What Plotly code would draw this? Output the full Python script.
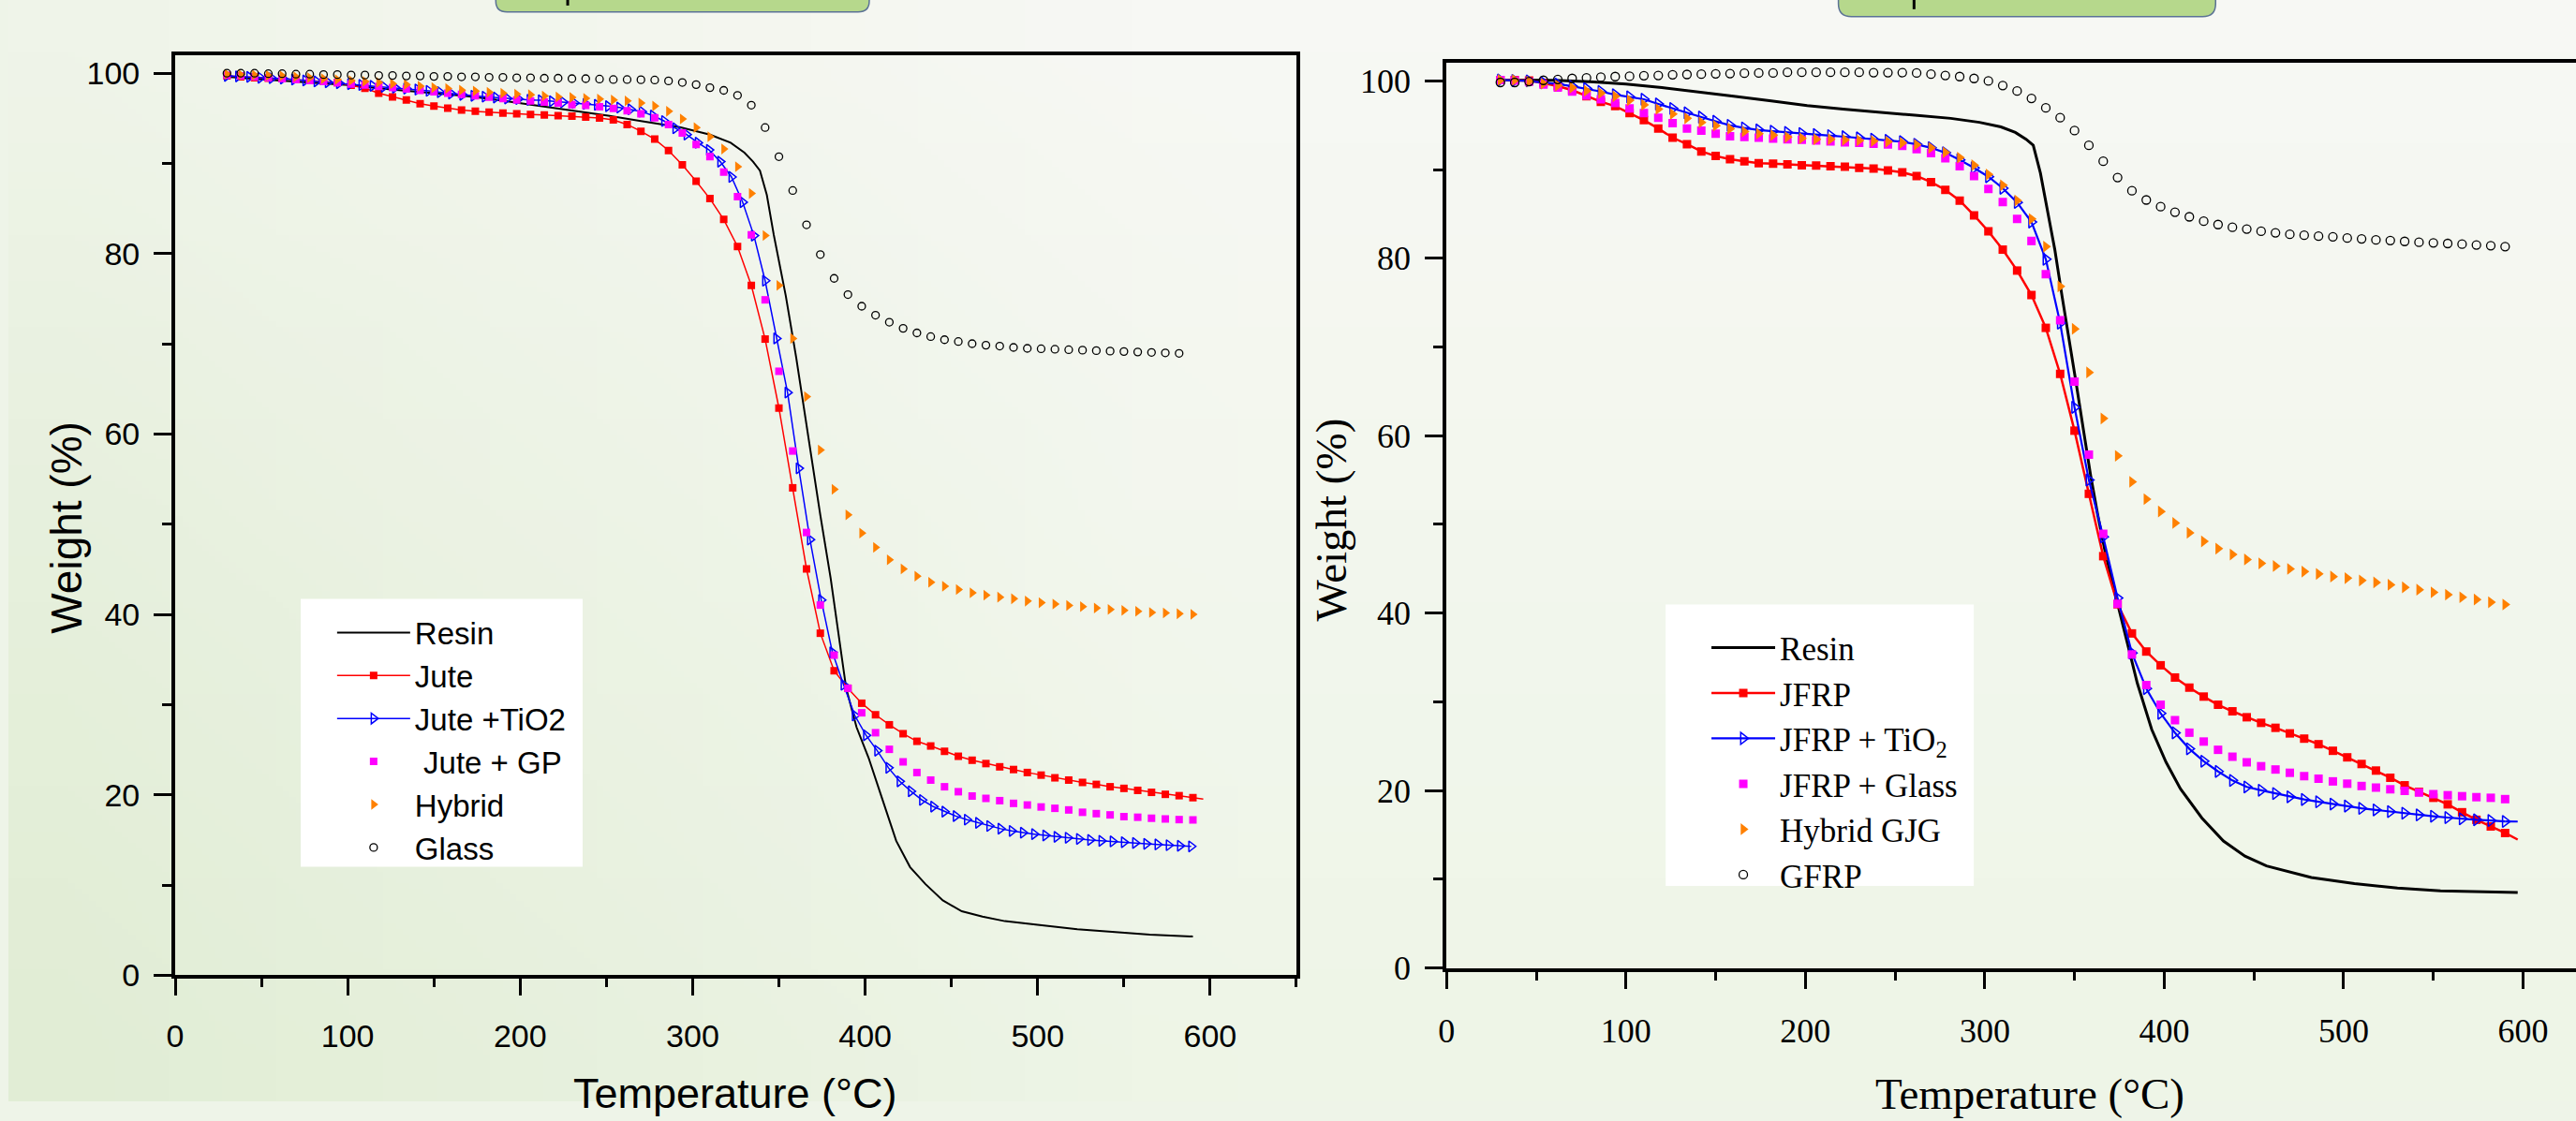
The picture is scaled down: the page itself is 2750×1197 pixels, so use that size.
import base64
import struct
import zlib

import plotly.graph_objects as go

# ---------------- DATA ----------------
# common temperature grid (°C) of the marker series
temp_grid = [30, 38, 46, 54, 62, 70, 78, 86, 94, 102, 110, 118, 126, 134, 142, 150, 158, 166, 174, 182,
             190, 198, 206, 214, 222, 230, 238, 246, 254, 262, 270, 278, 286, 294, 302, 310, 318, 326, 334, 342,
             350, 358, 366, 374, 382, 390, 398, 406, 414, 422, 430, 438, 446, 454, 462, 470, 478, 486, 494, 502,
             510, 518, 526, 534, 542, 550, 558, 566, 574, 582, 590]

# ---- left panel ----
left_resin_t = [30, 50, 75, 100, 125, 150, 167, 185, 200, 225, 251, 270, 293, 310, 322, 330, 335, 339, 343, 347,
                354, 360, 368, 374, 380, 385, 389, 395, 402, 410, 418, 426, 435, 445, 456, 468, 481, 500, 523, 545,
                565, 590]
left_resin_w = [99.6, 99.3, 99.0, 98.7, 98.2, 97.8, 97.5, 97.1, 96.7, 96.0, 95.3, 94.7, 94.0, 93.2, 92.3, 91.2,
                90.2, 89.2, 86.5, 82.1, 75.3, 68.5, 58.3, 51.0, 44.0, 37.5, 31.8, 27.5, 24.1, 19.5, 14.9, 12.0,
                10.1, 8.3, 7.1, 6.5, 6.0, 5.6, 5.1, 4.8, 4.5, 4.3]

left_jute_w = [99.7, 99.6, 99.5, 99.45, 99.4, 99.3, 99.2, 99.1, 98.95, 98.67,
               98.33, 97.79, 97.38, 97.04, 96.63, 96.36, 96.12, 95.92, 95.78, 95.68,
               95.58, 95.51, 95.44, 95.38, 95.31, 95.24, 95.14, 95.04, 94.83, 94.32,
               93.57, 92.69, 91.43, 89.84, 88.03, 86.10, 83.79, 80.79, 76.48, 70.53,
               62.88, 54.04, 45.05, 37.92, 33.76, 31.82, 30.16, 28.88, 27.77, 26.78,
               25.94, 25.42, 24.83, 24.28, 23.84, 23.47, 23.11, 22.81, 22.48, 22.19,
               21.89, 21.64, 21.38, 21.16, 20.90, 20.72, 20.50, 20.28, 20.06, 19.91,
               19.69]
left_jute_tail_t = [590, 596]
left_jute_tail_w = [19.69, 19.54]

left_tio2_t = [30, 36.5, 43, 49.5, 56, 62.5, 69, 75.5, 82, 88.5, 95, 101.5, 108, 114.5, 121, 127.5, 134, 140.5,
               147, 153.5, 160, 166.5, 173, 179.5, 186, 192.5, 199, 205.5, 212, 218.5, 225, 231.5, 238, 244.5,
               251, 257.5, 264, 270.5, 277, 283.5, 290, 296.5, 303, 309.5, 316, 322.5, 329, 335.5, 342, 348.5,
               355, 361.5, 368, 374.5, 381, 387.5, 394, 400.5, 407, 413.5, 420, 426.5, 433, 439.5, 446, 452.5,
               459, 465.5, 472, 478.5, 485, 491.5, 498, 504.5, 511, 517.5, 524, 530.5, 537, 543.5, 550, 556.5,
               563, 569.5, 576, 582.5, 589]
left_tio2_w = [99.7, 99.65, 99.6, 99.5, 99.45, 99.4, 99.3, 99.2, 99.1, 99.0,
               98.9, 98.8, 98.7, 98.6, 98.5, 98.4, 98.3, 98.2, 98.05, 97.9,
               97.75, 97.6, 97.5, 97.4, 97.3, 97.2, 97.15, 97.05, 97.0, 96.9,
               96.8, 96.7, 96.6, 96.5, 96.35, 96.2, 96.0, 95.75, 95.3, 94.7,
               93.9, 93.2, 92.3, 91.5, 90.2, 88.5, 85.7, 82.0, 77.0, 70.6,
               64.6, 56.2, 48.3, 41.6, 35.8, 32.2, 28.8, 26.6, 24.9, 23.0,
               21.5, 20.4, 19.43, 18.7, 18.14, 17.65, 17.25, 16.9, 16.55, 16.25,
               16.0, 15.8, 15.65, 15.5, 15.35, 15.25, 15.12, 15.0, 14.9, 14.84,
               14.75, 14.66, 14.57, 14.5, 14.42, 14.35, 14.29]

left_gp_w = [99.8, 99.7, 99.6, 99.5, 99.4, 99.3, 99.2, 99.1, 98.95, 98.8,
             98.7, 98.55, 98.4, 98.25, 98.1, 97.95, 97.8, 97.65, 97.5, 97.35,
             97.2, 97.05, 96.94, 96.8, 96.7, 96.53, 96.43, 96.29, 96.09, 95.85,
             95.51, 95.07, 94.32, 93.37, 92.11, 90.75, 89.05, 86.33, 82.09, 74.88,
             66.96, 58.12, 49.09, 41.04, 35.49, 31.82, 29.10, 26.89, 25.05, 23.66,
             22.48, 21.64, 20.90, 20.35, 19.87, 19.61, 19.36, 19.06, 18.88, 18.66,
             18.51, 18.33, 18.07, 17.92, 17.78, 17.59, 17.52, 17.41, 17.33, 17.26,
             17.22]

left_hybrid_w = [99.9, 99.85, 99.8, 99.75, 99.7, 99.6, 99.5, 99.4, 99.3, 99.2,
                 99.08, 98.98, 98.84, 98.74, 98.57, 98.40, 98.30, 98.13, 98.03, 97.89,
                 97.79, 97.69, 97.62, 97.48, 97.38, 97.31, 97.21, 97.14, 97.04, 96.94,
                 96.70, 96.36, 95.78, 94.93, 93.98, 92.96, 91.60, 89.63, 86.67, 82.02,
                 76.48, 70.60, 64.14, 58.23, 53.87, 51.04, 49.02, 47.43, 46.07, 45.05,
                 44.24, 43.58, 43.13, 42.77, 42.40, 42.14, 41.92, 41.74, 41.48, 41.30,
                 41.15, 41.00, 40.86, 40.71, 40.56, 40.45, 40.34, 40.23, 40.16, 40.08,
                 40.01]

left_glass_w = [100.0, 100.0, 100.0, 99.95, 99.95, 99.9, 99.9, 99.85, 99.85, 99.8,
                99.8, 99.75, 99.75, 99.7, 99.7, 99.65, 99.65, 99.6, 99.6, 99.55,
                99.55, 99.5, 99.5, 99.45, 99.45, 99.4, 99.4, 99.35, 99.3, 99.3,
                99.28, 99.25, 99.15, 98.98, 98.74, 98.4, 98.1, 97.55, 96.46, 93.98,
                90.75, 87.0, 83.2, 79.9, 77.26, 75.46, 74.17, 73.18, 72.4, 71.72,
                71.21, 70.8, 70.46, 70.26, 70.02, 69.85, 69.75, 69.6, 69.5, 69.45,
                69.4, 69.35, 69.3, 69.25, 69.2, 69.15, 69.1, 69.05, 69.0, 68.95]

# ---- right panel ----
right_resin_t = [30, 60, 80, 100, 120, 140, 160, 181, 201, 221, 241, 261, 281, 297, 309, 317, 323, 327, 331, 335,
                 339, 343, 347, 351, 355, 359, 363, 367, 371, 375, 379, 385, 393, 401, 409, 421, 433, 445, 457, 482,
                 506, 530, 554, 578, 597]
right_resin_w = [100.1, 100.07, 99.9, 99.65, 99.24, 98.72, 98.27, 97.75, 97.23, 96.82, 96.44, 96.13, 95.78, 95.33,
                 94.81, 94.19, 93.43, 92.74, 89.6, 85.5, 81.0, 75.8, 70.9, 65.8, 60.6, 55.5, 51.0, 47.0, 43.5,
                 40.2, 37.0, 32.1, 26.9, 23.2, 20.2, 16.9, 14.3, 12.6, 11.5, 10.2, 9.5, 9.0, 8.7, 8.6, 8.5]

right_jfrp_w = [100.1, 100.1, 100.03, 99.76, 99.41, 98.96, 98.27, 97.65, 97.16, 96.37,
                95.57, 94.64, 93.6, 92.87, 92.05, 91.53, 91.18, 90.94, 90.73, 90.66,
                90.59, 90.49, 90.45, 90.39, 90.32, 90.21, 90.11, 89.9, 89.69, 89.28,
                88.59, 87.72, 86.51, 84.85, 83.05, 80.98, 78.62, 75.86, 72.16, 66.97,
                60.57, 53.45, 46.42, 41.0, 37.71, 35.67, 34.12, 32.74, 31.6, 30.59,
                29.67, 28.93, 28.26, 27.63, 27.07, 26.44, 25.85, 25.22, 24.48, 23.74,
                22.99, 22.25, 21.44, 20.59, 19.85, 19.18, 18.44, 17.55, 16.7, 15.95,
                15.21]
right_jfrp_tail_t = [590, 597]
right_jfrp_tail_w = [15.21, 14.47]

right_tio2_w = [100.1, 100.05, 100.0, 99.8, 99.65, 99.4, 99.14, 98.8, 98.44, 98.2,
                97.93, 97.4, 96.89, 96.4, 95.92, 95.45, 94.99, 94.7, 94.47, 94.33,
                94.19, 94.07, 93.95, 93.83, 93.71, 93.57, 93.43, 93.29, 93.15, 92.85,
                92.46, 91.9, 91.1, 90.2, 89.2, 87.9, 86.3, 84.09, 79.9, 72.7,
                63.2, 55.0, 48.6, 41.7, 35.5, 31.5, 28.7, 26.5, 24.7, 23.3,
                22.15, 21.14, 20.4, 20.03, 19.66, 19.29, 18.99, 18.73, 18.47, 18.25,
                17.99, 17.81, 17.62, 17.44, 17.25, 17.1, 16.95, 16.81, 16.7, 16.62,
                16.51]
right_tio2_tail_t = [590, 597]
right_tio2_tail_w = [16.51, 16.5]

right_glass_w = [100.1, 100.05, 99.9, 99.59, 99.24, 98.79, 98.34, 97.93, 97.51, 96.89,
                 96.37, 95.85, 95.23, 94.64, 94.4, 94.05, 93.77, 93.67, 93.6, 93.5,
                 93.43, 93.36, 93.29, 93.19, 93.08, 93.01, 92.91, 92.84, 92.67, 92.32,
                 91.87, 91.28, 90.39, 89.28, 87.83, 86.34, 84.44, 81.95, 78.21, 73.02,
                 66.1, 57.87, 48.94, 41.05, 35.34, 31.89, 29.67, 27.93, 26.52, 25.52,
                 24.59, 23.81, 23.18, 22.74, 22.37, 22.0, 21.62, 21.33, 21.03, 20.77,
                 20.51, 20.33, 20.14, 19.96, 19.77, 19.59, 19.47, 19.36, 19.25, 19.18,
                 19.03]

right_hybrid_w = [100.1, 100.1, 99.95, 99.7, 99.48, 99.24, 98.89, 98.62, 98.27, 97.82,
                  97.3, 96.82, 96.27, 95.78, 95.33, 94.95, 94.61, 94.29, 94.05, 93.88,
                  93.67, 93.53, 93.43, 93.43, 93.36, 93.29, 93.22, 93.15, 93.01, 92.81,
                  92.46, 91.94, 91.35, 90.49, 89.45, 88.24, 86.51, 84.44, 81.32, 76.83,
                  72.05, 67.14, 61.95, 57.73, 54.8, 52.85, 51.46, 50.16, 49.05, 48.09,
                  47.27, 46.61, 46.05, 45.61, 45.31, 44.98, 44.68, 44.42, 44.12, 43.94,
                  43.68, 43.46, 43.2, 42.9, 42.64, 42.34, 42.08, 41.79, 41.53, 41.23,
                  40.97]

right_gfrp_w = [99.83, 99.83, 99.93, 100.07, 100.17, 100.28, 100.35, 100.42, 100.49, 100.52,
                100.59, 100.62, 100.69, 100.73, 100.76, 100.8, 100.83, 100.87, 100.9, 100.9,
                100.97, 100.97, 100.97, 100.97, 100.97, 100.97, 100.93, 100.93, 100.93, 100.9,
                100.76, 100.62, 100.49, 100.28, 100.0, 99.48, 98.86, 98.03, 96.96, 95.85,
                94.4, 92.74, 90.94, 89.11, 87.62, 86.58, 85.82, 85.2, 84.68, 84.19,
                83.81, 83.5, 83.3, 83.05, 82.88, 82.71, 82.6, 82.5, 82.43, 82.29,
                82.19, 82.08, 82.01, 81.91, 81.81, 81.74, 81.67, 81.6, 81.5, 81.43,
                81.32]

left_names = ["Resin", "Jute", "Jute +TiO2", " Jute + GP", "Hybrid", "Glass"]
right_names = ["Resin", "JFRP", "JFRP + TiO<sub>2</sub>", "JFRP + Glass", "Hybrid GJG", "GFRP"]
x_title = "Temperature (°C)"
y_title = "Weight (%)"

# ---------------- FIGURE ----------------
W, H = 2750, 1197


def px(x):
    return x / W


def py(y):
    return 1 - y / H


RED, BLUE, MAG, ORA = "#ff0000", "#0000ff", "#ff00ff", "#ff8000"
SANS = "Liberation Sans, Arial, sans-serif"
SERIF = "Liberation Serif, Times New Roman, serif"


# soft background gradient (decoration only), encoded as a tiny PNG
def gradient_uri(nx=24, ny=12):
    def lerp(a, b, t):
        return tuple(a[i] + (b[i] - a[i]) * t for i in range(3))
    top = (247, 248, 244)
    bottom = (238, 245, 231)
    green = (225, 237, 213)
    raw = bytearray()
    for j in range(ny):
        v = j / (ny - 1)
        raw.append(0)
        for i in range(nx):
            u = i / (nx - 1)
            base = lerp(top, bottom, v)
            g = max(0.0, 1 - u / 0.45) * (0.35 + 0.65 * v)
            c = lerp(base, green, g)
            raw.extend(int(round(ch)) for ch in c)

    def chunk(tag, data):
        return (struct.pack(">I", len(data)) + tag + data +
                struct.pack(">I", zlib.crc32(tag + data) & 0xFFFFFFFF))

    png = (b"\x89PNG\r\n\x1a\n" +
           chunk(b"IHDR", struct.pack(">IIBBBBB", nx, ny, 8, 2, 0, 0, 0)) +
           chunk(b"IDAT", zlib.compress(bytes(raw))) + chunk(b"IEND", b""))
    return "data:image/png;base64," + base64.b64encode(png).decode()


fig = go.Figure()

# left panel
fig.add_trace(go.Scatter(x=left_resin_t, y=left_resin_w, mode="lines", name=left_names[0],
                         line=dict(color="black", width=2), xaxis="x", yaxis="y", legend="legend"))
fig.add_trace(go.Scatter(x=temp_grid, y=left_jute_w, mode="lines+markers", name=left_names[1],
                         line=dict(color=RED, width=1.5),
                         marker=dict(symbol="square", size=8, color=RED),
                         xaxis="x", yaxis="y", legend="legend"))
fig.add_trace(go.Scatter(x=left_jute_tail_t, y=left_jute_tail_w, mode="lines", showlegend=False,
                         line=dict(color=RED, width=1.5), xaxis="x", yaxis="y", hoverinfo="skip"))
fig.add_trace(go.Scatter(x=left_tio2_t, y=left_tio2_w, mode="lines+markers", name=left_names[2],
                         line=dict(color=BLUE, width=1.5),
                         marker=dict(symbol="triangle-right-open", size=10, color=BLUE, line=dict(width=1.5)),
                         xaxis="x", yaxis="y", legend="legend"))
fig.add_trace(go.Scatter(x=temp_grid, y=left_gp_w, mode="markers", name=left_names[3],
                         marker=dict(symbol="square", size=8, color=MAG),
                         xaxis="x", yaxis="y", legend="legend"))
fig.add_trace(go.Scatter(x=temp_grid, y=left_hybrid_w, mode="markers", name=left_names[4],
                         marker=dict(symbol="triangle-right", size=10, color=ORA),
                         xaxis="x", yaxis="y", legend="legend"))
fig.add_trace(go.Scatter(x=temp_grid[:len(left_glass_w)], y=left_glass_w, mode="markers", name=left_names[5],
                         marker=dict(symbol="circle-open", size=8, color="black", line=dict(width=1.3)),
                         xaxis="x", yaxis="y", legend="legend"))

# right panel
fig.add_trace(go.Scatter(x=right_resin_t, y=right_resin_w, mode="lines", name=right_names[0],
                         line=dict(color="black", width=3), xaxis="x2", yaxis="y2", legend="legend2"))
fig.add_trace(go.Scatter(x=temp_grid, y=right_jfrp_w, mode="lines+markers", name=right_names[1],
                         line=dict(color=RED, width=2.5),
                         marker=dict(symbol="square", size=9, color=RED),
                         xaxis="x2", yaxis="y2", legend="legend2"))
fig.add_trace(go.Scatter(x=right_jfrp_tail_t, y=right_jfrp_tail_w, mode="lines", showlegend=False,
                         line=dict(color=RED, width=2.5), xaxis="x2", yaxis="y2", hoverinfo="skip"))
fig.add_trace(go.Scatter(x=temp_grid, y=right_tio2_w, mode="lines+markers", name=right_names[2],
                         line=dict(color=BLUE, width=2.2),
                         marker=dict(symbol="triangle-right-open", size=11, color=BLUE, line=dict(width=1.5)),
                         xaxis="x2", yaxis="y2", legend="legend2"))
fig.add_trace(go.Scatter(x=right_tio2_tail_t, y=right_tio2_tail_w, mode="lines", showlegend=False,
                         line=dict(color=BLUE, width=2.2), xaxis="x2", yaxis="y2", hoverinfo="skip"))
fig.add_trace(go.Scatter(x=temp_grid, y=right_glass_w, mode="markers", name=right_names[3],
                         marker=dict(symbol="square", size=9, color=MAG),
                         xaxis="x2", yaxis="y2", legend="legend2"))
fig.add_trace(go.Scatter(x=temp_grid, y=right_hybrid_w, mode="markers", name=right_names[4],
                         marker=dict(symbol="triangle-right", size=11, color=ORA),
                         xaxis="x2", yaxis="y2", legend="legend2"))
fig.add_trace(go.Scatter(x=temp_grid, y=right_gfrp_w, mode="markers", name=right_names[5],
                         marker=dict(symbol="circle-open", size=9, color="black", line=dict(width=1.3)),
                         xaxis="x2", yaxis="y2", legend="legend2"))


def xaxis_style(font, domain, rng, mirror):
    return dict(domain=domain, range=rng, showgrid=False, zeroline=False,
                showline=True, linecolor="black", linewidth=4, mirror=mirror,
                ticks="outside", ticklen=18, tickwidth=3, tickcolor="black",
                tick0=0, dtick=100, tickfont=font, ticklabelstandoff=14,
                minor=dict(dtick=50, ticks="outside", ticklen=9, tickwidth=3, tickcolor="black", showgrid=False),
                fixedrange=True)


def yaxis_style(font, domain, rng, anchor, mirror):
    return dict(domain=domain, range=rng, anchor=anchor, showgrid=False, zeroline=False,
                showline=True, linecolor="black", linewidth=4, mirror=mirror,
                ticks="outside", ticklen=19, tickwidth=3, tickcolor="black",
                tick0=0, dtick=20, tickfont=font, ticklabelstandoff=8,
                minor=dict(dtick=10, ticks="outside", ticklen=10, tickwidth=3, tickcolor="black", showgrid=False),
                fixedrange=True)


left_font = dict(family=SANS, size=34, color="black")
right_font = dict(family=SERIF, size=36, color="black")

left_xdom = [px(178.6), px(1379.5)]
left_ydom = [py(1060), py(60)]
right_xdom = [px(1540.3), 1.0]
right_ydom = [py(1052), py(67.7)]


# decorative tab boxes at the top edge
def tab_path(x0, x1, y1, r):
    return (f"M {px(x0)},{py(-20)} L {px(x0)},{py(y1 - r)} "
            f"Q {px(x0)},{py(y1)} {px(x0 + r)},{py(y1)} L {px(x1 - r)},{py(y1)} "
            f"Q {px(x1)},{py(y1)} {px(x1)},{py(y1 - r)} L {px(x1)},{py(-20)} Z")


shapes = [
    dict(type="path", xref="paper", yref="paper", path=tab_path(522, 922, 13, 12),
         fillcolor="#b6d88c", line=dict(color="#5b7295", width=1.5), layer="below"),
    dict(type="path", xref="paper", yref="paper", path=tab_path(1960, 2364, 18, 14),
         fillcolor="#b6d88c", line=dict(color="#5b7295", width=1.5), layer="below"),
    dict(type="line", xref="paper", yref="paper", x0=px(599), x1=px(599), y0=py(0), y1=py(6),
         line=dict(color="black", width=3)),
    dict(type="line", xref="paper", yref="paper", x0=px(2041), x1=px(2041), y0=py(0), y1=py(10),
         line=dict(color="black", width=3)),
    # white legend boxes
    dict(type="rect", xref="paper", yref="paper", x0=px(313), x1=px(615), y0=py(942), y1=py(651),
         fillcolor="white", line=dict(width=0), layer="above"),
    dict(type="rect", xref="paper", yref="paper", x0=px(1775), x1=px(2105), y0=py(963), y1=py(657),
         fillcolor="white", line=dict(width=0), layer="above"),
]

annotations = [
    dict(text=y_title, xref="paper", yref="paper", x=px(62), y=py(573), textangle=-90,
         showarrow=False, xanchor="center", yanchor="middle", font=dict(family=SANS, size=46, color="black")),
    dict(text=x_title, xref="paper", yref="paper", x=px(779), y=py(1188),
         showarrow=False, xanchor="center", yanchor="middle", font=dict(family=SANS, size=45, color="black")),
    dict(text=y_title, xref="paper", yref="paper", x=px(1417), y=py(565), textangle=-90,
         showarrow=False, xanchor="center", yanchor="middle", font=dict(family=SERIF, size=47, color="black")),
    dict(text=x_title, xref="paper", yref="paper", x=px(2165), y=py(1189),
         showarrow=False, xanchor="center", yanchor="middle", font=dict(family=SERIF, size=47, color="black")),
]

fig.update_layout(
    width=W, height=H,
    margin=dict(l=0, r=0, t=0, b=0),
    paper_bgcolor="#eef4e8",
    plot_bgcolor="rgba(0,0,0,0)",
    showlegend=True,
    images=[dict(source=gradient_uri(), xref="paper", yref="paper", x=0, y=1, sizex=1, sizey=1,
                 sizing="stretch", xanchor="left", yanchor="top", layer="below")],
    xaxis=xaxis_style(left_font, left_xdom, [0, 650], True) | dict(anchor="y"),
    yaxis=yaxis_style(left_font, left_ydom, [0, 102], "x", True),
    xaxis2=xaxis_style(right_font, right_xdom, [0, 629.5], True) | dict(anchor="y2"),
    yaxis2=yaxis_style(right_font, right_ydom, [0, 102.1], "x2", False),
    legend=dict(x=px(347), y=py(659), xanchor="left", yanchor="top", bgcolor="rgba(0,0,0,0)",
                borderwidth=0, font=dict(family=SANS, size=33, color="black"),
                itemwidth=78, tracegroupgap=0),
    legend2=dict(x=px(1819), y=py(674), xanchor="left", yanchor="top", bgcolor="rgba(0,0,0,0)",
                 borderwidth=0, font=dict(family=SERIF, size=35, color="black"),
                 itemwidth=68, tracegroupgap=0),
    shapes=shapes,
    annotations=annotations,
)

page_fix = (
    "document.documentElement.style.margin='0';"
    "document.documentElement.style.overflow='hidden';"
    "document.body.style.margin='0';document.body.style.padding='0';"
    "document.body.style.overflow='hidden';"
    "var gd=document.getElementById('{plot_id}');"
    "gd.style.overflow='hidden';gd.style.position='relative';"
    "gd.querySelectorAll('svg').forEach(function(s){s.style.overflow='hidden';});"
)

fig.write_html("out.html", config={"displayModeBar": False}, post_script=page_fix)
